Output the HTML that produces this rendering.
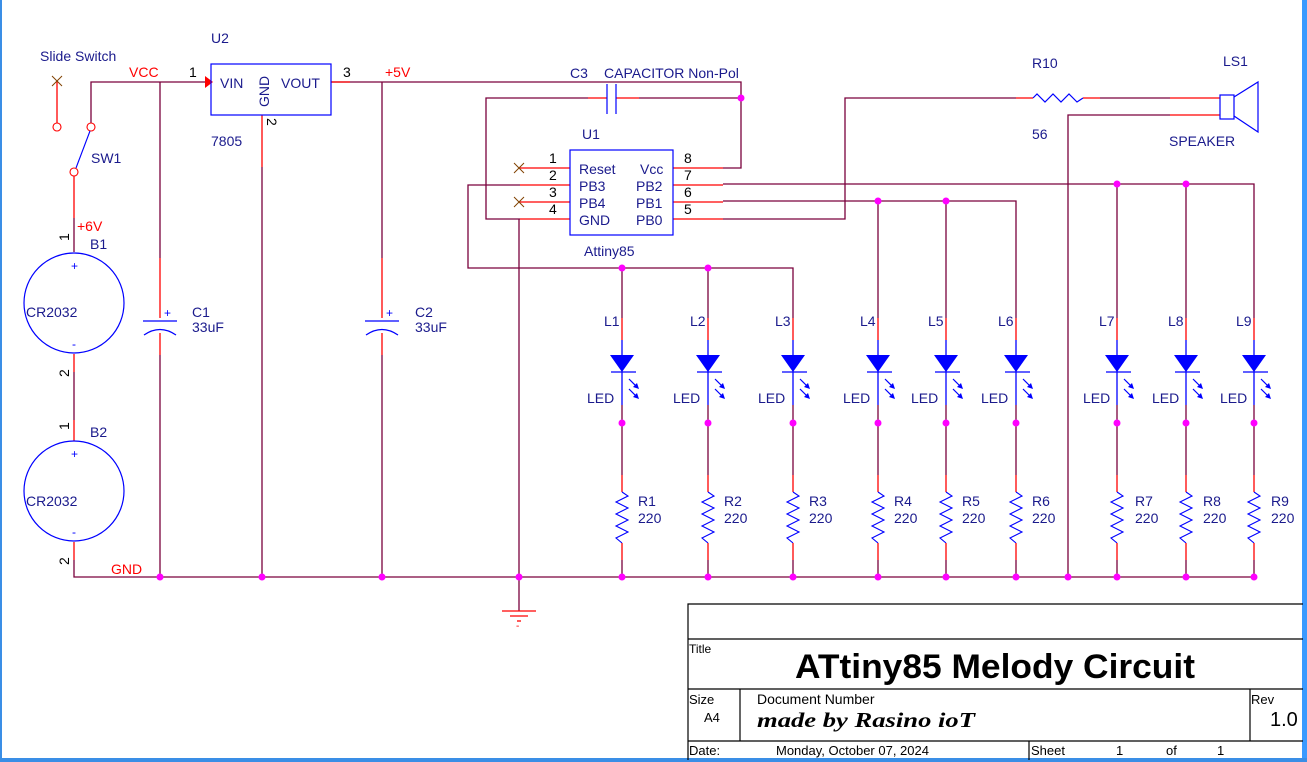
<!DOCTYPE html>
<html><head><meta charset="utf-8"><style>
html,body{margin:0;padding:0;background:#fff;}
svg{display:block;}
text{font-family:"Liberation Sans",Arial,sans-serif;}
</style></head><body>
<svg width="1307" height="762" viewBox="0 0 1307 762" xmlns="http://www.w3.org/2000/svg">
<defs>
<g id="led">
<line x1="0" y1="318" x2="0" y2="340" stroke="#ff0000" stroke-width="1.3"/>
<line x1="0" y1="340" x2="0" y2="405" stroke="#0000ff" stroke-width="1.3"/>
<polygon points="-12,355 12,355 0,372" fill="#0000ff"/>
<line x1="-11" y1="372" x2="14" y2="372" stroke="#0000ff" stroke-width="1.3"/>
<line x1="7" y1="379" x2="15" y2="387" stroke="#0000ff" stroke-width="1.2"/>
<polygon points="17,389 11,387 15,383" fill="#0000ff"/>
<line x1="7" y1="389" x2="15" y2="397" stroke="#0000ff" stroke-width="1.2"/>
<polygon points="17,399 11,397 15,393" fill="#0000ff"/>
<line x1="0" y1="405" x2="0" y2="475" stroke="#7a003c" stroke-width="1.3"/>
<line x1="0" y1="475" x2="0" y2="492" stroke="#ff0000" stroke-width="1.3"/>
<polyline points="0,492 6,496 -6,502 6,508 -6,514 6,520 -6,526 6,532 -6,538 0,543" fill="none" stroke="#0000ff" stroke-width="1.1"/>
<line x1="0" y1="543" x2="0" y2="560" stroke="#ff0000" stroke-width="1.3"/>
<line x1="0" y1="560" x2="0" y2="577" stroke="#7a003c" stroke-width="1.3"/>
<circle cx="0" cy="423" r="3.5" fill="#ff00ff"/>
<circle cx="0" cy="577" r="3.5" fill="#ff00ff"/>
</g>
</defs>
<rect x="0" y="0" width="1307" height="762" fill="#fff"/>
<rect x="0" y="0" width="2" height="762" fill="#3a8ee6"/>
<rect x="1302" y="0" width="5" height="762" fill="#3a9aff"/>
<rect x="0" y="758" width="1307" height="4" fill="#3a8ee6"/>

<g stroke="#7a003c" stroke-width="1.3" fill="none">
<polyline points="74,560 74,577 1254,577"/>
<polyline points="91,127 91,82 205,82"/>
<line x1="160" y1="82" x2="160" y2="258"/>
<line x1="160" y1="355" x2="160" y2="577"/>
<line x1="262" y1="167" x2="262" y2="577"/>
<polyline points="331,82 741,82 741,168 723,168"/>
<line x1="382" y1="82" x2="382" y2="258"/>
<line x1="382" y1="355" x2="382" y2="577"/>
<polyline points="588,98 486,98 486,219 520,219"/>
<line x1="639" y1="98" x2="741" y2="98"/>
<line x1="519" y1="219" x2="519" y2="611"/>
<polyline points="520,185 468,185 468,268 793,268 793,318"/>
<line x1="622" y1="268" x2="622" y2="318"/>
<line x1="708" y1="268" x2="708" y2="318"/>
<polyline points="723,184 1254,184 1254,318"/>
<line x1="1117" y1="184" x2="1117" y2="318"/>
<line x1="1186" y1="184" x2="1186" y2="318"/>
<polyline points="723,201 1016,201 1016,318"/>
<line x1="878" y1="201" x2="878" y2="318"/>
<line x1="946" y1="201" x2="946" y2="318"/>
<polyline points="723,219 845,219 845,98 1016,98"/>
<line x1="1100" y1="98" x2="1170" y2="98"/>
<polyline points="1170,115 1068,115 1068,577"/>
<line x1="74" y1="372" x2="74" y2="420"/>
<line x1="74" y1="218" x2="74" y2="252"/>
</g>

<g stroke="#ff0000" stroke-width="1.3" fill="none">
<line x1="57" y1="81" x2="57" y2="124"/>
<line x1="74" y1="175" x2="74" y2="218"/>
<line x1="74" y1="354" x2="74" y2="372"/>
<line x1="74" y1="420" x2="74" y2="441"/>
<line x1="74" y1="542" x2="74" y2="560"/>
<line x1="262" y1="115" x2="262" y2="167"/>
<line x1="331" y1="82" x2="350" y2="82"/>
<line x1="160" y1="258" x2="160" y2="318"/>
<line x1="160" y1="333" x2="160" y2="355"/>
<line x1="382" y1="258" x2="382" y2="318"/>
<line x1="382" y1="333" x2="382" y2="355"/>
<line x1="588" y1="98" x2="607" y2="98"/>
<line x1="616" y1="98" x2="639" y2="98"/>
<line x1="520" y1="168" x2="570" y2="168"/>
<line x1="520" y1="185" x2="570" y2="185"/>
<line x1="520" y1="202" x2="570" y2="202"/>
<line x1="520" y1="219" x2="570" y2="219"/>
<line x1="673" y1="168" x2="723" y2="168"/>
<line x1="673" y1="185" x2="723" y2="185"/>
<line x1="673" y1="202" x2="723" y2="202"/>
<line x1="673" y1="219" x2="723" y2="219"/>
<line x1="1016" y1="98" x2="1033" y2="98"/>
<line x1="1083" y1="98" x2="1100" y2="98"/>
<line x1="1170" y1="98" x2="1220" y2="98"/>
<line x1="1170" y1="115" x2="1220" y2="115"/>
<line x1="502" y1="611" x2="536" y2="611"/>
<line x1="510" y1="616" x2="528" y2="616"/>
<line x1="517" y1="621" x2="521" y2="621"/>
</g>
<polygon points="205,76 213,82 205,88" fill="#ff0000"/>

<g stroke="#ff0000" stroke-width="1.1" fill="#fff">
<circle cx="57" cy="127" r="4"/><circle cx="91" cy="127" r="4"/><circle cx="74" cy="172" r="4"/>
</g>
<line x1="90" y1="131" x2="76" y2="168" stroke="#0000ff" stroke-width="1.1"/>
<g stroke="#804000" stroke-width="1"><line x1="52" y1="76" x2="62" y2="86"/><line x1="62" y1="76" x2="52" y2="86"/>
<line x1="514" y1="163" x2="524" y2="173"/><line x1="524" y1="163" x2="514" y2="173"/>
<line x1="514" y1="197" x2="524" y2="207"/><line x1="524" y1="197" x2="514" y2="207"/></g>

<g stroke="#0000ff" stroke-width="1.2" fill="none">
<circle cx="74" cy="303" r="50"/>
<circle cx="74" cy="491" r="50"/>
<rect x="211" y="64" width="120" height="51"/>
<rect x="570" y="150" width="103" height="85"/>
<line x1="143" y1="321" x2="177" y2="321"/>
<path d="M144,335 Q160,324 176,335"/>
<line x1="365" y1="321" x2="399" y2="321"/>
<path d="M366,335 Q382,324 398,335"/>
<line x1="607" y1="84" x2="607" y2="114"/>
<line x1="616" y1="84" x2="616" y2="114"/>
<polyline points="1033,98 1037,94 1045,102 1053,94 1061,102 1069,94 1077,102 1083,98"/>
<rect x="1220" y="95" width="14" height="24"/>
<polyline points="1234,97 1258,82 1258,132 1234,116"/>
</g>

<use href="#led" x="622"/><use href="#led" x="708"/><use href="#led" x="793"/>
<use href="#led" x="878"/><use href="#led" x="946"/><use href="#led" x="1016"/>
<use href="#led" x="1117"/><use href="#led" x="1186"/><use href="#led" x="1254"/>

<g fill="#ff00ff">
<circle cx="741" cy="98" r="3.5"/>
<circle cx="622" cy="268" r="3.5"/><circle cx="708" cy="268" r="3.5"/>
<circle cx="878" cy="201" r="3.5"/><circle cx="946" cy="201" r="3.5"/>
<circle cx="1117" cy="184" r="3.5"/><circle cx="1186" cy="184" r="3.5"/>
<circle cx="160" cy="577" r="3.5"/><circle cx="262" cy="577" r="3.5"/><circle cx="382" cy="577" r="3.5"/><circle cx="519" cy="577" r="3.5"/><circle cx="1068" cy="577" r="3.5"/>
</g>

<g font-size="14" fill="#1a1a8c">
<text x="40" y="61">Slide Switch</text>
<text x="91" y="163">SW1</text>
<text x="90" y="249">B1</text>
<text x="90" y="437">B2</text>
<text x="26" y="317">CR2032</text>
<text x="26" y="506">CR2032</text>
<text x="211" y="43">U2</text>
<text x="211" y="146">7805</text>
<text x="220" y="88">VIN</text>
<text x="281" y="88">VOUT</text>
<text x="269" y="107" transform="rotate(-90 269 107)">GND</text>
<text x="192" y="317">C1</text><text x="192" y="332">33uF</text>
<text x="415" y="317">C2</text><text x="415" y="332">33uF</text>
<text x="570" y="78">C3</text>
<text x="604" y="78">CAPACITOR Non-Pol</text>
<text x="582" y="139">U1</text>
<text x="584" y="256">Attiny85</text>
<text x="579" y="174">Reset</text><text x="640" y="174">Vcc</text>
<text x="579" y="191">PB3</text><text x="636" y="191">PB2</text>
<text x="579" y="208">PB4</text><text x="636" y="208">PB1</text>
<text x="579" y="225">GND</text><text x="636" y="225">PB0</text>
<text x="1032" y="68">R10</text>
<text x="1032" y="139">56</text>
<text x="1223" y="66">LS1</text>
<text x="1169" y="146">SPEAKER</text>
</g>
<g font-size="14" fill="#1a1a8c">
<text x="604" y="326">L1</text><text x="587" y="403">LED</text><text x="638" y="506">R1</text><text x="638" y="523">220</text>
<text x="690" y="326">L2</text><text x="673" y="403">LED</text><text x="724" y="506">R2</text><text x="724" y="523">220</text>
<text x="775" y="326">L3</text><text x="758" y="403">LED</text><text x="809" y="506">R3</text><text x="809" y="523">220</text>
<text x="860" y="326">L4</text><text x="843" y="403">LED</text><text x="894" y="506">R4</text><text x="894" y="523">220</text>
<text x="928" y="326">L5</text><text x="911" y="403">LED</text><text x="962" y="506">R5</text><text x="962" y="523">220</text>
<text x="998" y="326">L6</text><text x="981" y="403">LED</text><text x="1032" y="506">R6</text><text x="1032" y="523">220</text>
<text x="1099" y="326">L7</text><text x="1083" y="403">LED</text><text x="1135" y="506">R7</text><text x="1135" y="523">220</text>
<text x="1168" y="326">L8</text><text x="1152" y="403">LED</text><text x="1203" y="506">R8</text><text x="1203" y="523">220</text>
<text x="1236" y="326">L9</text><text x="1220" y="403">LED</text><text x="1271" y="506">R9</text><text x="1271" y="523">220</text>
</g>
<g font-size="14" fill="#ff0000">
<text x="129" y="77">VCC</text>
<text x="385" y="77">+5V</text>
<text x="77" y="231">+6V</text>
<text x="111" y="574">GND</text>
</g>
<g font-size="14" fill="#000">
<text x="189" y="77">1</text>
<text x="343" y="77">3</text>
<text x="267" y="118" transform="rotate(90 267 118)">2</text>
<text x="69" y="241" transform="rotate(-90 69 241)">1</text>
<text x="69" y="377" transform="rotate(-90 69 377)">2</text>
<text x="69" y="430" transform="rotate(-90 69 430)">1</text>
<text x="69" y="565" transform="rotate(-90 69 565)">2</text>
<text x="549" y="163">1</text><text x="549" y="180">2</text><text x="549" y="197">3</text><text x="549" y="214">4</text>
<text x="684" y="163">8</text><text x="684" y="180">7</text><text x="684" y="197">6</text><text x="684" y="214">5</text>
</g>
<g fill="#0000ff" font-size="12">
<text x="71" y="270">+</text><text x="72" y="348">-</text>
<text x="71" y="458">+</text><text x="72" y="536">-</text>
<text x="164" y="317">+</text><text x="386" y="317">+</text>
</g>
<text x="516" y="629" font-size="10" fill="#ff0000">-</text>

<g stroke="#000" stroke-width="1.2" fill="none">
<polyline points="688,760 688,604 1303,604"/>
<line x1="688" y1="639" x2="1303" y2="639"/>
<line x1="688" y1="689" x2="1303" y2="689"/>
<line x1="688" y1="741" x2="1303" y2="741"/>
<line x1="740" y1="689" x2="740" y2="741"/>
<line x1="1250" y1="689" x2="1250" y2="741"/>
<line x1="1029" y1="741" x2="1029" y2="760"/>
</g>
<g fill="#000">
<text x="689" y="653" font-size="12">Title</text>
<text x="995" y="678" font-size="34" font-weight="bold" text-anchor="middle" textLength="400" lengthAdjust="spacingAndGlyphs">ATtiny85 Melody Circuit</text>
<text x="689" y="704" font-size="13">Size</text>
<text x="704" y="722" font-size="13">A4</text>
<text x="757" y="704" font-size="14">Document Number</text>
<text x="757" y="727" font-size="21" font-weight="bold" font-style="italic" style="font-family:'Liberation Serif',serif" textLength="218" lengthAdjust="spacingAndGlyphs">made by Rasino ioT</text>
<text x="1251" y="704" font-size="13">Rev</text>
<text x="1270" y="726" font-size="20">1.0</text>
<text x="689" y="755" font-size="13">Date:</text>
<text x="776" y="755" font-size="13">Monday, October 07, 2024</text>
<text x="1031" y="755" font-size="13">Sheet</text>
<text x="1116" y="755" font-size="13">1</text>
<text x="1166" y="755" font-size="13">of</text>
<text x="1217" y="755" font-size="13">1</text>
</g>
</svg>
</body></html>
